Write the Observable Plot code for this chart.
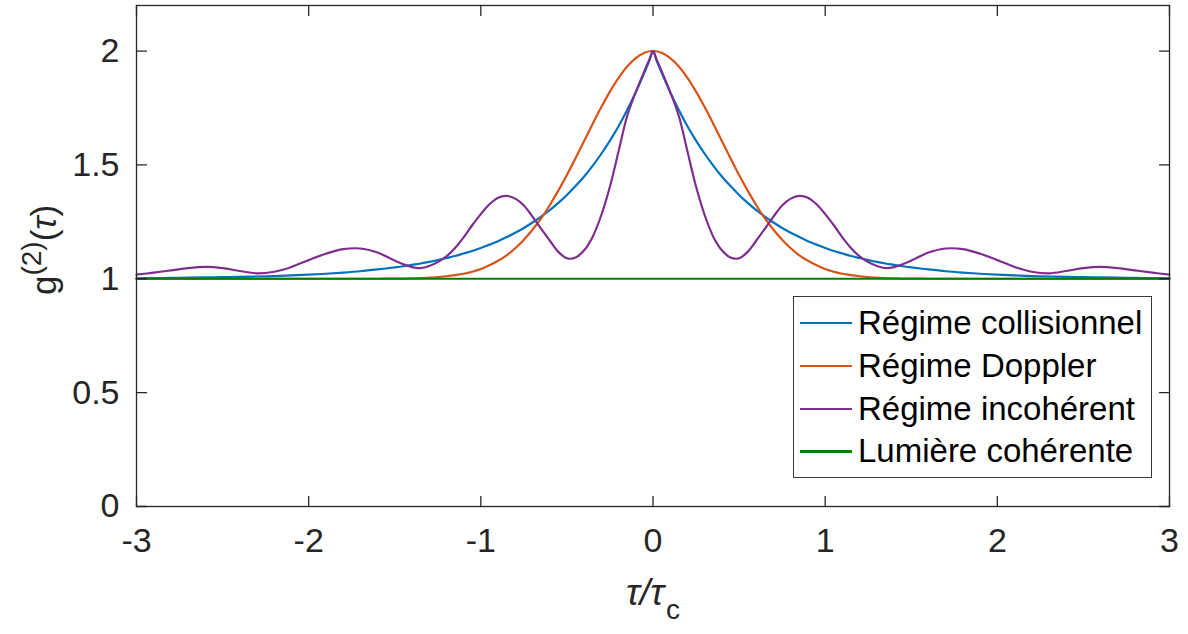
<!DOCTYPE html>
<html>
<head>
<meta charset="utf-8">
<script src="https://cdn.jsdelivr.net/npm/d3@7"></script>
<script src="https://cdn.jsdelivr.net/npm/@observablehq/plot@0.6"></script>
<style>
  html, body { margin: 0; padding: 0; background: #fff; }
  #wrap { position: relative; width: 1188px; height: 634px; font-family: "Liberation Sans", Arial, Helvetica, sans-serif; color: #262626; }
  #wrap svg { position: absolute; left: 0; top: 0; }
  #ylab { position: absolute; left: 43px; top: 250px; transform: translate(-50%, -50%) rotate(-90deg); font-size: 35px; white-space: nowrap; line-height: 1; }
  #ylab sup { font-size: 28px; position: relative; top: -8px; vertical-align: top; line-height: 1; }
  #xlab { position: absolute; left: 653px; top: 574px; transform: translateX(-50%); font-size: 37px; white-space: nowrap; line-height: 1; font-style: italic; }
  #xlab sub { font-size: 28px; font-style: normal; position: relative; top: 14px; vertical-align: baseline; line-height: 1; margin-left: 2px; }
  #legend { position: absolute; left: 793px; top: 296px; width: 359px; height: 182px; border: 1.3px solid #3a3a3a; background: #fff; box-sizing: border-box; padding-top: 5px; }
  .row { height: 42.7px; display: flex; align-items: center; font-size: 33px; color: #000; white-space: nowrap; }
  .swatch { width: 52px; height: 2.2px; margin-left: 6px; margin-right: 6px; }
</style>
</head>
<body>
<div id="wrap"></div>
<script>
// ---- Data ----
const tau = [-3,-2.9,-2.8,-2.7,-2.6,-2.5,-2.4,-2.3,-2.2,-2.1,-2,-1.9,-1.8,-1.7,-1.6,
  -1.5,-1.45,-1.4,-1.35,-1.3,-1.25,-1.2,-1.15,-1.1,-1.05,-1,-0.95,-0.9,-0.85,-0.8,-0.75,-0.7,-0.65,-0.6,-0.55,
  -0.5,-0.45,-0.4,-0.35,-0.3,-0.25,-0.2,-0.15,-0.1,-0.05,-0.02,0,0.02,0.05,0.1,0.15,0.2,0.25,0.3,0.35,0.4,0.45,
  0.5,0.55,0.6,0.65,0.7,0.75,0.8,0.85,0.9,0.95,1,1.05,1.1,1.15,1.2,1.25,1.3,1.35,1.4,1.45,1.5,
  1.6,1.7,1.8,1.9,2,2.1,2.2,2.3,2.4,2.5,2.6,2.7,2.8,2.9,3];

const collisionnel = [1.002,1.003,1.004,1.005,1.006,1.007,1.008,1.010,1.012,1.015,1.018,1.022,1.027,1.033,1.041,
  1.050,1.055,1.061,1.067,1.074,1.082,1.091,1.100,1.111,1.122,1.135,1.150,1.165,1.183,1.202,1.223,1.247,1.273,1.301,1.333,
  1.368,1.407,1.449,1.497,1.549,1.607,1.670,1.741,1.819,1.905,1.961,2.000,1.961,1.905,1.819,1.741,1.670,1.607,1.549,1.497,1.449,1.407,
  1.368,1.333,1.301,1.273,1.247,1.223,1.202,1.183,1.165,1.150,1.135,1.122,1.111,1.100,1.091,1.082,1.074,1.067,1.061,1.055,1.050,
  1.041,1.033,1.027,1.022,1.018,1.015,1.012,1.010,1.008,1.007,1.006,1.005,1.004,1.003,1.002];

const doppler = [1.000,1.000,1.000,1.000,1.000,1.000,1.000,1.000,1.000,1.000,1.000,1.000,1.000,1.000,1.000,
  1.001,1.001,1.002,1.003,1.005,1.007,1.011,1.016,1.022,1.031,1.043,1.059,1.079,1.103,1.134,1.171,1.215,1.265,1.323,1.387,
  1.456,1.529,1.605,1.681,1.754,1.822,1.882,1.932,1.969,1.992,1.999,2.000,1.999,1.992,1.969,1.932,1.882,1.822,1.754,1.681,1.605,1.529,
  1.456,1.387,1.323,1.265,1.215,1.171,1.134,1.103,1.079,1.059,1.043,1.031,1.022,1.016,1.011,1.007,1.005,1.003,1.002,1.001,1.001,
  1.000,1.000,1.000,1.000,1.000,1.000,1.000,1.000,1.000,1.000,1.000,1.000,1.000,1.000,1.000];

const incoherent = [1.018,1.027,1.037,1.047,1.052,1.047,1.034,1.024,1.031,1.052,1.082,1.110,1.130,1.133,1.115,
  1.080,1.064,1.051,1.047,1.056,1.073,1.098,1.135,1.182,1.235,1.284,1.327,1.356,1.364,1.352,1.322,1.273,1.220,1.168,1.118,
  1.090,1.093,1.125,1.185,1.280,1.405,1.560,1.715,1.820,1.912,1.964,2.000,1.964,1.912,1.820,1.715,1.560,1.405,1.280,1.185,1.125,1.093,
  1.090,1.118,1.168,1.220,1.273,1.322,1.352,1.364,1.356,1.327,1.284,1.235,1.182,1.135,1.098,1.073,1.056,1.047,1.051,1.064,1.080,
  1.115,1.133,1.130,1.110,1.082,1.052,1.031,1.024,1.034,1.047,1.052,1.047,1.037,1.027,1.018];

const coherentTau = [-3, 3];
const coherent = [1, 1];

const seriesNames = ["Régime collisionnel", "Régime Doppler", "Régime incohérent", "Lumière cohérente"];
const seriesColors = ["#0072BD", "#D95319", "#7E2F8E", "#008000"];

const xTicks = [-3, -2, -1, 0, 1, 2, 3];
const xTickLabels = ["-3", "-2", "-1", "0", "1", "2", "3"];
const yTicks = [0, 0.5, 1, 1.5, 2];
const yTickLabels = ["0", "0.5", "1", "1.5", "2"];

// ---- Build tables ----
const rows = [];
[collisionnel, doppler, incoherent].forEach((vals, k) => {
  tau.forEach((t, i) => rows.push({t, g: vals[i], s: seriesNames[k]}));
});
coherentTau.forEach((t, i) => rows.push({t, g: coherent[i], s: seriesNames[3]}));

const xLab = new Map(xTicks.map((v, i) => [v, xTickLabels[i]]));
const yLab = new Map(yTicks.map((v, i) => [v, yTickLabels[i]]));
const axisColor = "#262626";
const tickShape = {draw(context, l) { context.moveTo(0, 0); context.lineTo(0, -l); }};

const chart = Plot.plot({
  width: 1188,
  height: 634,
  marginLeft: 136,
  marginRight: 19,
  marginTop: 5,
  marginBottom: 128,
  style: {fontFamily: "'Liberation Sans', Arial, Helvetica, sans-serif", fontSize: "34px", color: axisColor, background: "transparent"},
  x: {domain: [-3, 3]},
  y: {domain: [0, 2.2]},
  color: {domain: seriesNames, range: seriesColors},
  marks: [
    Plot.axisX(xTicks, {tickSize: 0, tickPadding: 21, label: null, tickFormat: d => xLab.get(d), fill: axisColor}),
    Plot.axisY(yTicks, {tickSize: 0, tickPadding: 17, label: null, tickFormat: d => yLab.get(d), fill: axisColor}),
    Plot.line(rows, {x: "t", y: "g", z: "s", stroke: "s", strokeWidth: 2.2, curve: "catmull-rom"}),
    Plot.vector(xTicks, {x: d => d, y: 0, length: 10, rotate: 0, anchor: "start", shape: tickShape, stroke: axisColor, strokeWidth: 1.3}),
    Plot.vector(xTicks, {x: d => d, y: 2.2, length: 10, rotate: 180, anchor: "start", shape: tickShape, stroke: axisColor, strokeWidth: 1.3}),
    Plot.vector(yTicks, {x: -3, y: d => d, length: 10, rotate: 90, anchor: "start", shape: tickShape, stroke: axisColor, strokeWidth: 1.3}),
    Plot.vector(yTicks, {x: 3, y: d => d, length: 10, rotate: -90, anchor: "start", shape: tickShape, stroke: axisColor, strokeWidth: 1.3}),
    Plot.frame({stroke: axisColor, strokeWidth: 1.3})
  ]
});

const wrap = document.getElementById("wrap");
wrap.appendChild(chart);

const ylab = document.createElement("div");
ylab.id = "ylab";
ylab.innerHTML = "g<sup>(2)</sup>(<i>τ</i>)";
wrap.appendChild(ylab);

const xlab = document.createElement("div");
xlab.id = "xlab";
xlab.innerHTML = "τ/τ<sub>c</sub>";
wrap.appendChild(xlab);

const legend = document.createElement("div");
legend.id = "legend";
seriesNames.forEach((name, i) => {
  const r = document.createElement("div");
  r.className = "row";
  const sw = document.createElement("div");
  sw.className = "swatch";
  sw.style.background = seriesColors[i];
  const tx = document.createElement("span");
  tx.textContent = name;
  r.appendChild(sw);
  r.appendChild(tx);
  legend.appendChild(r);
});
wrap.appendChild(legend);
</script>
</body>
</html>
